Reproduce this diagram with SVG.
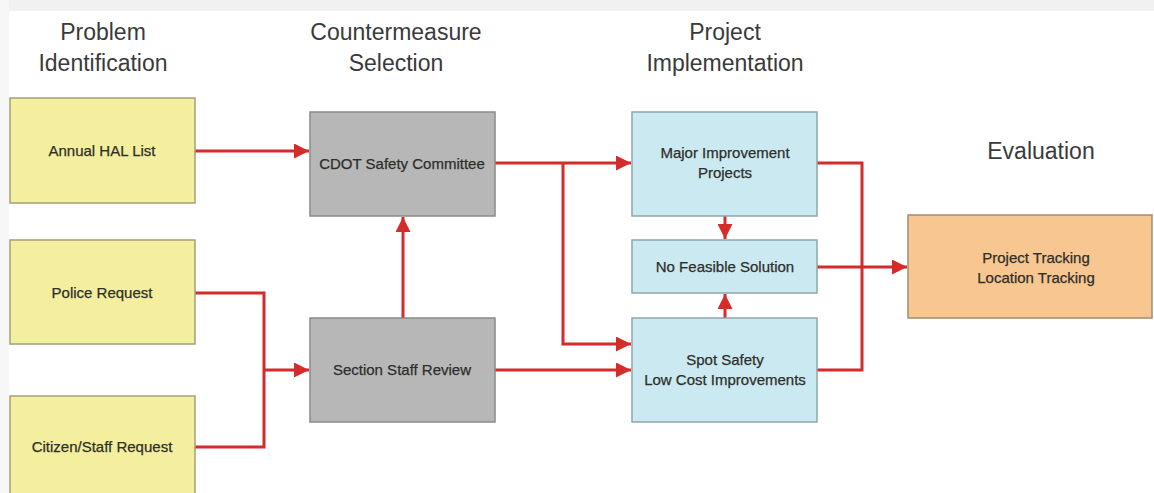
<svg xmlns="http://www.w3.org/2000/svg" width="1154" height="493" viewBox="0 0 1154 493">
<defs>
<style>
.hd{font-family:"Liberation Sans",Arial,sans-serif;font-size:23px;fill:#3a3a3a;text-anchor:middle}
.t{font-family:"Liberation Sans",Arial,sans-serif;font-size:15px;fill:#2e2e2a;text-anchor:middle;stroke:#2e2e2a;stroke-width:0.25}
.y{fill:#f4ef9e;stroke:#a3a07a;stroke-width:1.5}
.g{fill:#b7b7b7;stroke:#8a8a8a;stroke-width:1.5}
.b{fill:#cbe9f1;stroke:#8fa6ab;stroke-width:1.5}
.o{fill:#f8c690;stroke:#a88a6c;stroke-width:1.5}
.c{fill:none;stroke:#d42b2b;stroke-width:3}
</style>
<marker id="ah" viewBox="0 0 10 10" refX="10" refY="5" markerWidth="6" markerHeight="5" orient="auto" markerUnits="strokeWidth">
<path d="M0,0 L10,5 L0,10 z" fill="#d42b2b"/>
</marker>
</defs>
<rect x="0" y="0" width="1154" height="493" fill="#ffffff"/>
<rect x="0" y="0" width="1154" height="11" fill="#f1f1f1"/>
<rect x="0" y="0" width="9" height="493" fill="#f7f7f7"/>

<g id="headings">
<text class="hd" x="103" y="40">Problem</text>
<text class="hd" x="103" y="71">Identification</text>
<text class="hd" x="396" y="40">Countermeasure</text>
<text class="hd" x="396" y="71">Selection</text>
<text class="hd" x="725" y="40">Project</text>
<text class="hd" x="725" y="71">Implementation</text>
<text class="hd" x="1041" y="159">Evaluation</text>
</g>

<g id="connectors">
<line class="c" x1="195" y1="151" x2="309" y2="151" marker-end="url(#ah)"/>
<polyline class="c" points="195,293 264,293 264,447 195,447"/>
<line class="c" x1="264" y1="370" x2="309" y2="370" marker-end="url(#ah)"/>
<line class="c" x1="403" y1="318" x2="403" y2="217" marker-end="url(#ah)"/>
<line class="c" x1="495" y1="163" x2="631" y2="163" marker-end="url(#ah)"/>
<polyline class="c" points="563,163 563,344 631,344" marker-end="url(#ah)"/>
<line class="c" x1="495" y1="370" x2="631" y2="370" marker-end="url(#ah)"/>
<line class="c" x1="725" y1="216" x2="725" y2="239" marker-end="url(#ah)"/>
<line class="c" x1="725" y1="318" x2="725" y2="294" marker-end="url(#ah)"/>
<polyline class="c" points="817,163 862,163 862,370 817,370"/>
<line class="c" x1="817" y1="267" x2="907" y2="267" marker-end="url(#ah)"/>
</g>

<g id="annual-hal">
<rect class="y" x="10" y="98" width="185" height="105"/>
<text class="t" x="102" y="156">Annual HAL List</text>
</g>
<g id="police">
<rect class="y" x="10" y="240" width="185" height="104"/>
<text class="t" x="102" y="298">Police Request</text>
</g>
<g id="citizen">
<rect class="y" x="10" y="396" width="185" height="104"/>
<text class="t" x="102" y="452">Citizen/Staff Request</text>
</g>
<g id="cdot">
<rect class="g" x="310" y="112" width="185" height="104"/>
<text class="t" x="402" y="169">CDOT Safety Committee</text>
</g>
<g id="section">
<rect class="g" x="310" y="318" width="185" height="104"/>
<text class="t" x="402" y="375">Section Staff Review</text>
</g>
<g id="major">
<rect class="b" x="632" y="112" width="185" height="104"/>
<text class="t" x="725" y="158">Major Improvement</text>
<text class="t" x="725" y="178">Projects</text>
</g>
<g id="nofeasible">
<rect class="b" x="632" y="240" width="185" height="53"/>
<text class="t" x="725" y="272">No Feasible Solution</text>
</g>
<g id="spot">
<rect class="b" x="632" y="318" width="185" height="104"/>
<text class="t" x="725" y="365">Spot Safety</text>
<text class="t" x="725" y="385">Low Cost Improvements</text>
</g>
<g id="evaluation">
<rect class="o" x="908" y="215" width="244" height="103"/>
<text class="t" x="1036" y="263">Project Tracking</text>
<text class="t" x="1036" y="283">Location Tracking</text>
</g>
</svg>
